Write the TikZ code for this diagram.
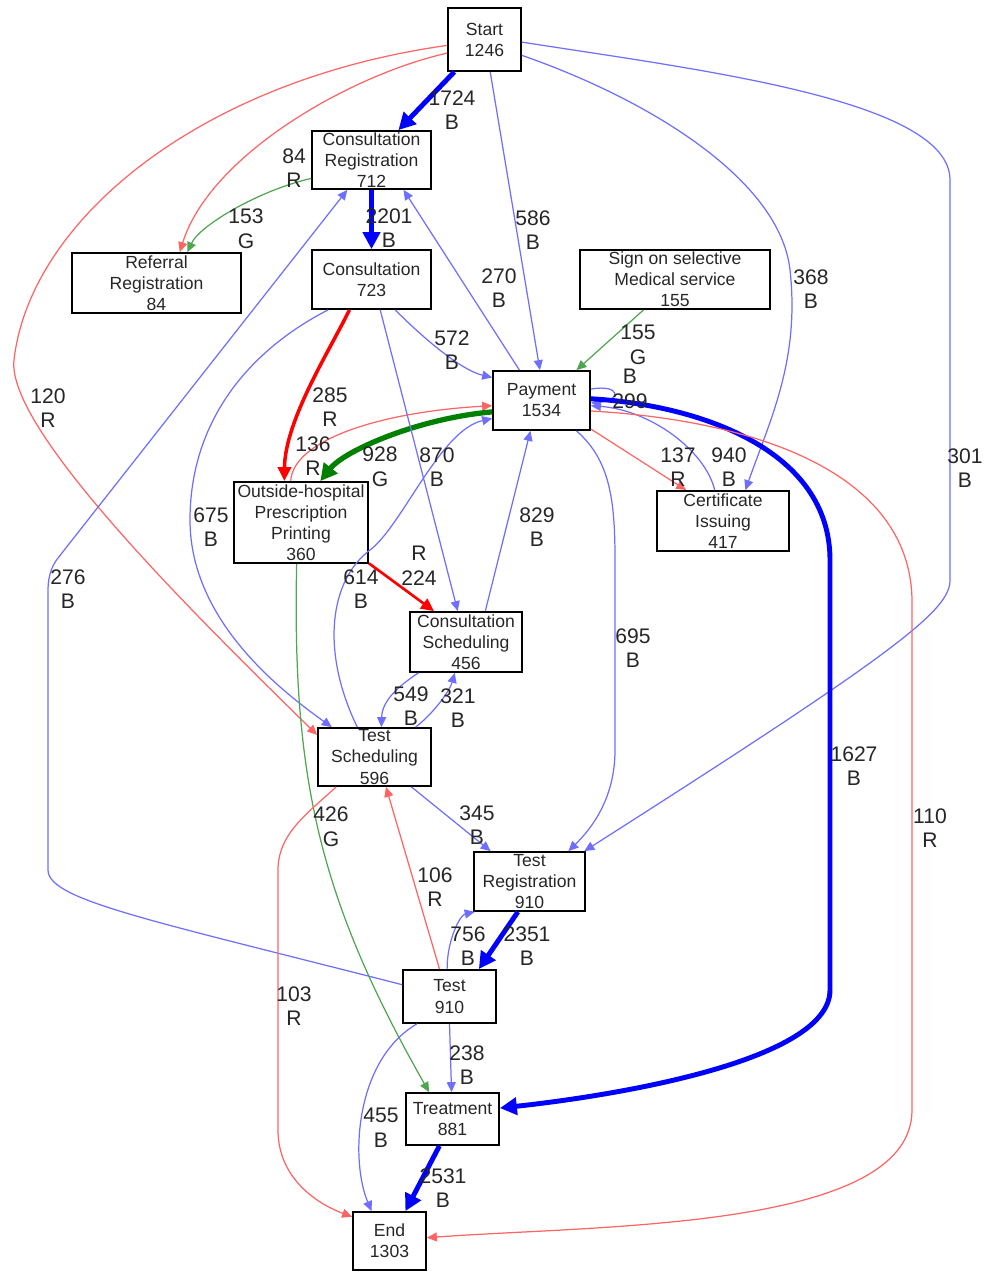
\documentclass[tikz,border=0pt]{standalone}
\usepackage{fontspec}
\setmainfont{Liberation Sans}
\usetikzlibrary{arrows.meta}
\definecolor{lineblue}{RGB}{110,110,255}
\definecolor{linered}{RGB}{255,100,100}
\definecolor{linegreen}{RGB}{80,165,80}
\definecolor{heavygreen}{RGB}{0,128,0}
\tikzset{
  box/.style={draw, line width=1pt, inner sep=0pt, align=center, text=black!85,
    font=\fontsize{10}{12}\selectfont},
  lbl/.style={inner sep=0pt, align=center, text=black!85, font=\fontsize{12}{14}\selectfont},
  thinB/.style={draw=lineblue, line width=0.7pt, -{Triangle[length=2mm,width=1.8mm]}},
  thinR/.style={draw=linered, line width=0.7pt, -{Triangle[length=2mm,width=1.8mm]}},
  thinG/.style={draw=linegreen, line width=0.7pt, -{Triangle[length=2mm,width=1.8mm]}},
  midR/.style={draw=red, line width=1.5pt, -{Triangle[length=2.6mm,width=2.4mm]}},
  heavyR/.style={draw=red, line width=2pt, -{Triangle[length=2.8mm,width=2.6mm]}},
  heavyB/.style={draw=blue, line width=2.8pt, -{Triangle[length=3.4mm,width=3.4mm]}},
  heavyG/.style={draw=heavygreen, line width=3pt, -{Triangle[length=3.4mm,width=3.4mm]}}
}
\begin{document}
\begin{tikzpicture}[x=0.02cm, y=-0.02cm]
      \useasboundingbox (0,0) rectangle (983,1273);
      \draw
        (484.5,39.5) node[box, minimum width=1.46cm, minimum height=1.26cm] (start) {Start\\1246}
        (371.5,160) node[box, minimum width=2.38cm, minimum height=1.16cm] (creg) {Consultation\\Registration\\712}
        (156.5,283) node[box, minimum width=3.38cm, minimum height=1.2cm] (rreg) {Referral\\Registration\\84}
        (371.5,279.5) node[box, minimum width=2.38cm, minimum height=1.18cm] (cons) {Consultation\\723}
        (675,279.5) node[box, minimum width=3.8cm, minimum height=1.18cm] (sign) {Sign on selective\\Medical service\\155}
        (541.5,400.5) node[box, minimum width=1.94cm, minimum height=1.18cm] (pay) {Payment\\1534}
        (301,522.5) node[box, minimum width=2.68cm, minimum height=1.62cm] (ohp) {Outside-hospital\\Prescription\\Printing\\360}
        (723,521) node[box, minimum width=2.64cm, minimum height=1.2cm] (cert) {Certificate\\Issuing\\417}
        (466,642) node[box, minimum width=2.24cm, minimum height=1.2cm] (csch) {Consultation\\Scheduling\\456}
        (374.5,757) node[box, minimum width=2.26cm, minimum height=1.16cm] (tsch) {Test\\Scheduling\\596}
        (529.5,881.5) node[box, minimum width=2.22cm, minimum height=1.18cm] (treg) {Test\\Registration\\910}
        (449.5,996.5) node[box, minimum width=1.86cm, minimum height=1.06cm] (test) {Test\\910}
        (452.5,1119) node[box, minimum width=1.86cm, minimum height=1.04cm] (treat) {Treatment\\881}
        (389.5,1241) node[box, minimum width=1.46cm, minimum height=1.16cm] (fin) {End\\1303};
      \begin{scope}
        \draw[heavyB] (start.227) -- (creg.48);
        \draw[thinR] (start.200) .. controls (350,75) and (210,155) .. (rreg.53);
        \draw[thinR] (start.189) .. controls (200,80) and (30,220) .. (14,360) .. controls (6,430) and (200,620) .. (tsch.159);
        \draw[thinB] (start.280) -- (pay.93);
        \draw[thinB] (start.337) .. controls (650,100) and (780,180) .. (790,270) .. controls (800,360) and (770,420) .. (cert.54);
        \draw[thinB] (start.356) .. controls (700,70) and (950,100) .. (950,180) -- (950,580) .. controls (950,610) and (900,650) .. (treg.29);
        \draw[heavyB] (creg.south) -- (cons.north);
        \draw[thinG] (creg.197) .. controls (260,190) and (200,225) .. (rreg.45);
        \draw[thinB] (cons.308) .. controls (420,335) and (460,370) .. (pay.155);
        \draw[thinB] (pay.126) -- (creg.317);
        \draw[thinB] (test.166) .. controls (150,920) and (48,900) .. (48,870) -- (48,590) .. controls (48,575) and (52.5,565) .. (58,558) -- (creg.231);
        \draw[heavyR] (cons.234) .. controls (330,350) and (285,420) .. (ohp.112);
        \draw[thinR] (ohp.104) .. controls (293,440) and (380,412) .. (pay.186);
        \draw[heavyG] (pay.193) .. controls (420,418) and (345,450) .. (ohp.65);
        \draw[thinB] (cons.286) -- (csch.105);
        \draw[thinB] (cons.215) .. controls (250,350) and (190,420) .. (190,520) .. controls (190,620) and (280,690) .. (tsch.145);
        \draw[thinB] (tsch.120) .. controls (320,650) and (330,580) .. (370,550) .. controls (402,526) and (440,430) .. (pay.200);
        \draw[midR] (ohp.329) -- (csch.136);
        \draw[thinG] (ohp.264) .. controls (292,780) and (320,900) .. (treat.131);
        \draw[thinB] (csch.58) -- (pay.250);
        \draw[thinB] (csch.213) .. controls (400,685) and (382,700) .. (tsch.77);
        \draw[thinB] (tsch.36) .. controls (435,712) and (450,690) .. (csch.250);
        \draw[thinB] (pay.319) .. controls (610,460) and (615,500) .. (615,560) -- (615,750) .. controls (615,800) and (590,830) .. (treg.38);
        \draw[thinR] (pay.330) -- (cert.140);
        \draw[thinB] (cert.105) .. controls (705,450) and (650,410) .. (pay.354);
        \draw[thinB] (pay.13) .. controls (620,384) and (622,400) .. (pay.357);
        \draw[thinG] (sign.224) -- (pay.41);
        \draw[heavyB] (pay.2) .. controls (700,405) and (830,450) .. (830,560) -- (830,990) .. controls (830,1060) and (620,1095) .. (treat.13);
        \draw[thinR] (pay.348) .. controls (750,420) and (910,470) .. (912,600) -- (912,1110) .. controls (912,1230) and (600,1225) .. (fin.5);
        \draw[thinB] (tsch.321) -- (treg.142);
        \draw[thinR] (tsch.218) .. controls (305,815) and (278,835) .. (278,870) -- (278,1130) .. controls (278,1180) and (320,1205) .. (fin.147);
        \draw[thinR] (test.110) -- (tsch.291);
        \draw[thinB] (test.95) .. controls (447,940) and (460,915) .. (treg.209);
        \draw[heavyB] (treg.249) -- (test.43);
        \draw[thinB] (test.south) -- (treat.92);
        \draw[thinB] (test.220) .. controls (355,1060) and (350,1160) .. (fin.121);
        \draw[heavyB] (treat.244) -- (fin.62);
      \end{scope}
      \draw
        (452,110) node[lbl] (l1724) {1724\\B}
        (294,168) node[lbl] (l84) {84\\R}
        (389,228) node[lbl] (l2201) {2201\\B}
        (246,229) node[lbl] (l153) {153\\G}
        (533,230) node[lbl] (l586) {586\\B}
        (499,288) node[lbl] (l270) {270\\B}
        (811,289) node[lbl] (l368) {368\\B}
        (452,350) node[lbl] (l572) {572\\B}
        (638,345) node[lbl] (l155) {155\\G}
        (630,389) node[lbl] (l299) {B\\299}
        (48,408) node[lbl] (l120) {120\\R}
        (330,407) node[lbl] (l285) {285\\R}
        (313,456) node[lbl] (l136) {136\\R}
        (380,467) node[lbl] (l928) {928\\G}
        (437,467) node[lbl] (l870) {870\\B}
        (678,467) node[lbl] (l137) {137\\R}
        (729,467) node[lbl] (l940) {940\\B}
        (965,468) node[lbl] (l301) {301\\B}
        (211,527) node[lbl] (l675) {675\\B}
        (537,527) node[lbl] (l829) {829\\B}
        (419,566) node[lbl] (l224) {R\\224}
        (361,589) node[lbl] (l614) {614\\B}
        (68,589) node[lbl] (l276) {276\\B}
        (633,648) node[lbl] (l695) {695\\B}
        (411,706) node[lbl] (l549) {549\\B}
        (458,708) node[lbl] (l321) {321\\B}
        (854,766) node[lbl] (l1627) {1627\\B}
        (477,825) node[lbl] (l345) {345\\B}
        (331,827) node[lbl] (l426) {426\\G}
        (930,828) node[lbl] (l110) {110\\R}
        (435,887) node[lbl] (l106) {106\\R}
        (468,946) node[lbl] (l756) {756\\B}
        (527,946) node[lbl] (l2351) {2351\\B}
        (294,1006) node[lbl] (l103) {103\\R}
        (467,1065) node[lbl] (l238) {238\\B}
        (381,1128) node[lbl] (l455) {455\\B}
        (443,1188) node[lbl] (l2531) {2531\\B};
    \end{tikzpicture}
\end{document}
